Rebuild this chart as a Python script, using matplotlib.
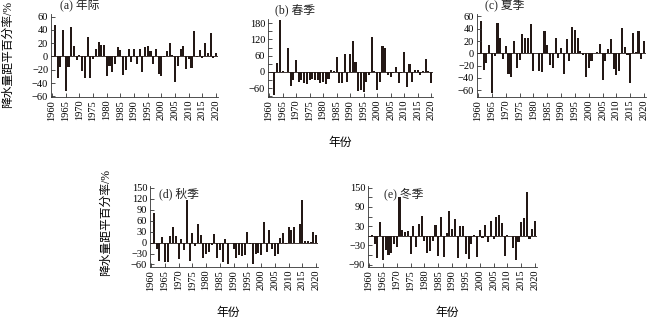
import numpy as np
import matplotlib
matplotlib.use("Agg")
import matplotlib.pyplot as plt
from matplotlib.ticker import MultipleLocator

plt.rcParams['font.family'] = ['Liberation Serif', 'Noto Sans CJK SC']
plt.rcParams['axes.unicode_minus'] = True

YEARS = list(range(1961, 2021))

annual = [48, -32, -16, 40, -52, -16, 45, 16, -6, 3,
          -22, -32, 30, -32, -4, 12, 22, 17, 17, -30,
          -14, -24, -12, 15, 10, -28, -20, 12, -8, 12,
          -12, 11, -24, 14, 16, 8, -12, 11, -26, -30,
          -1, 8, 21, 3, -38, -14, 11, 16, -19, -4,
          -17, 38, -1, 10, -3, 21, 5, 36, -2, 6]
spring = [-5, -85, 33, 190, 2, 1, 90, -50, -30, 45,
          -35, -30, -40, -45, -30, -25, -28, -28, -40, -35,
          -45, -25, 8, 5, 55, -40, -40, 65, -35, 68,
          113, 37, -70, -65, -75, -35, -10, 130, 3, -65,
          -35, 95, 90, -12, -20, -5, 18, -40, -3, 72,
          -55, 30, -35, 7, 7, -10, 3, 48, 5, -40]
summer = [53, -27, -15, 14, -64, -5, 50, 25, -10, 12,
          -34, -38, 20, -24, -11, 31, 25, 25, 48, -29,
          0, -28, -30, 37, 13, -19, -24, 25, -8, 9,
          -33, 24, -12, 43, 38, 25, 4, -2, -38, -24,
          -12, 0, 2, 15, -44, -12, 7, 23, -25, -36,
          -28, 42, 11, -3, -49, 33, 2, 37, -10, 20]
autumn = [82, -17, -50, 15, -52, -52, 18, 43, 18, -45,
          10, -20, 117, -50, 27, -10, 52, 20, -42, -30,
          -27, -8, 23, -42, -20, -52, 10, -58, 0, -18,
          -42, -35, -38, -35, 30, -3, -60, -32, -28, -35,
          55, -25, 35, -18, -38, -32, 12, 25, -5, 42,
          35, 43, 0, 52, 118, 5, 3, 2, 30, 22]
winter = [2, -25, -68, 42, -75, -45, -60, -55, -25, -35,
          120, 18, 12, 15, -58, 32, -35, 36, 62, -15,
          -55, -48, -15, 33, -62, 58, -66, 10, 76, 22,
          52, -68, 32, 30, -58, -72, -25, 3, -65, 18,
          -8, 34, -20, 45, -10, 58, 65, 40, -62, 3,
          0, -38, -75, -20, 42, 55, 135, -10, 22, 45]

BAR = "#231815"
W, H = 650, 322

# (values, title, rect px [left, top, right, bottom], ylim, major ticks, minor step,
#  title x offset px, title inside axes?)
PANELS = [
    (annual, "(a) 年际", [51, 14, 218, 97], (-61, 64), [-60, -40, -20, 0, 20, 40, 60], 20, 9, False),
    (spring, "(b) 春季", [268, 19, 433, 97], (-92, 195), [-60, 0, 60, 120, 180], 30, 7, False),
    (summer, "(c) 夏季", [477, 14, 646, 97], (-71, 64), [-60, -40, -20, 0, 20, 40, 60], 20, 8, False),
    (autumn, "(d) 秋季", [150, 186, 318, 267], (-67, 155), [-60, -30, 0, 30, 60, 90, 120, 150], 30, 9, True),
    (winter, "(e) 冬季", [368, 186, 537, 267], (-97, 155), [-90, -30, 30, 90, 150], 30, 16, True),
]

fig = plt.figure(figsize=(W / 100, H / 100), dpi=100)

for vals, title, (l, t, r, b), ylim, major, minor, tx, inside in PANELS:
    ax = fig.add_axes([l / W, 1 - b / H, (r - l) / W, (b - t) / H])
    ax.bar(YEARS, vals, width=0.75, color=BAR, linewidth=0)
    ax.axhline(0, color=BAR, linewidth=0.6)
    ax.set_xlim(1959.6, 2020.7)
    ax.set_ylim(*ylim)
    ax.set_xticks(range(1960, 2021, 5))
    ax.set_xticklabels([str(y) for y in range(1960, 2021, 5)], rotation=90)
    ax.set_yticks(major)
    ax.yaxis.set_minor_locator(MultipleLocator(minor))
    ax.tick_params(axis="both", which="both", direction="in", labelsize=7.5,
                   width=0.6, color="#333333", pad=2)
    ax.tick_params(axis="both", which="major", length=3)
    ax.tick_params(axis="y", which="minor", length=3)
    ax.tick_params(axis="x", which="minor", length=0)
    for s in ("top", "right"):
        ax.spines[s].set_visible(False)
    for s in ("left", "bottom"):
        ax.spines[s].set_linewidth(0.6)
        ax.spines[s].set_color("#333333")
    ax.text(tx / (r - l), 0.98 if inside else 1.02, title, transform=ax.transAxes,
            fontsize=8.5, ha="left", va="top" if inside else "bottom", color="#222222")

ylab = "降水量距平百分率/%"
fig.text(8 / W, 1 - 55 / H, ylab, rotation=90, ha="center", va="center", fontsize=8.5)
fig.text(106 / W, 1 - 222 / H, ylab, rotation=90, ha="center", va="center", fontsize=8.5)
fig.text(340 / W, 1 - 143 / H, "年份", ha="center", va="center", fontsize=8.5)
fig.text(228 / W, 1 - 313 / H, "年份", ha="center", va="center", fontsize=8.5)
fig.text(447 / W, 1 - 313 / H, "年份", ha="center", va="center", fontsize=8.5)

fig.savefig("out.png", dpi=100)
